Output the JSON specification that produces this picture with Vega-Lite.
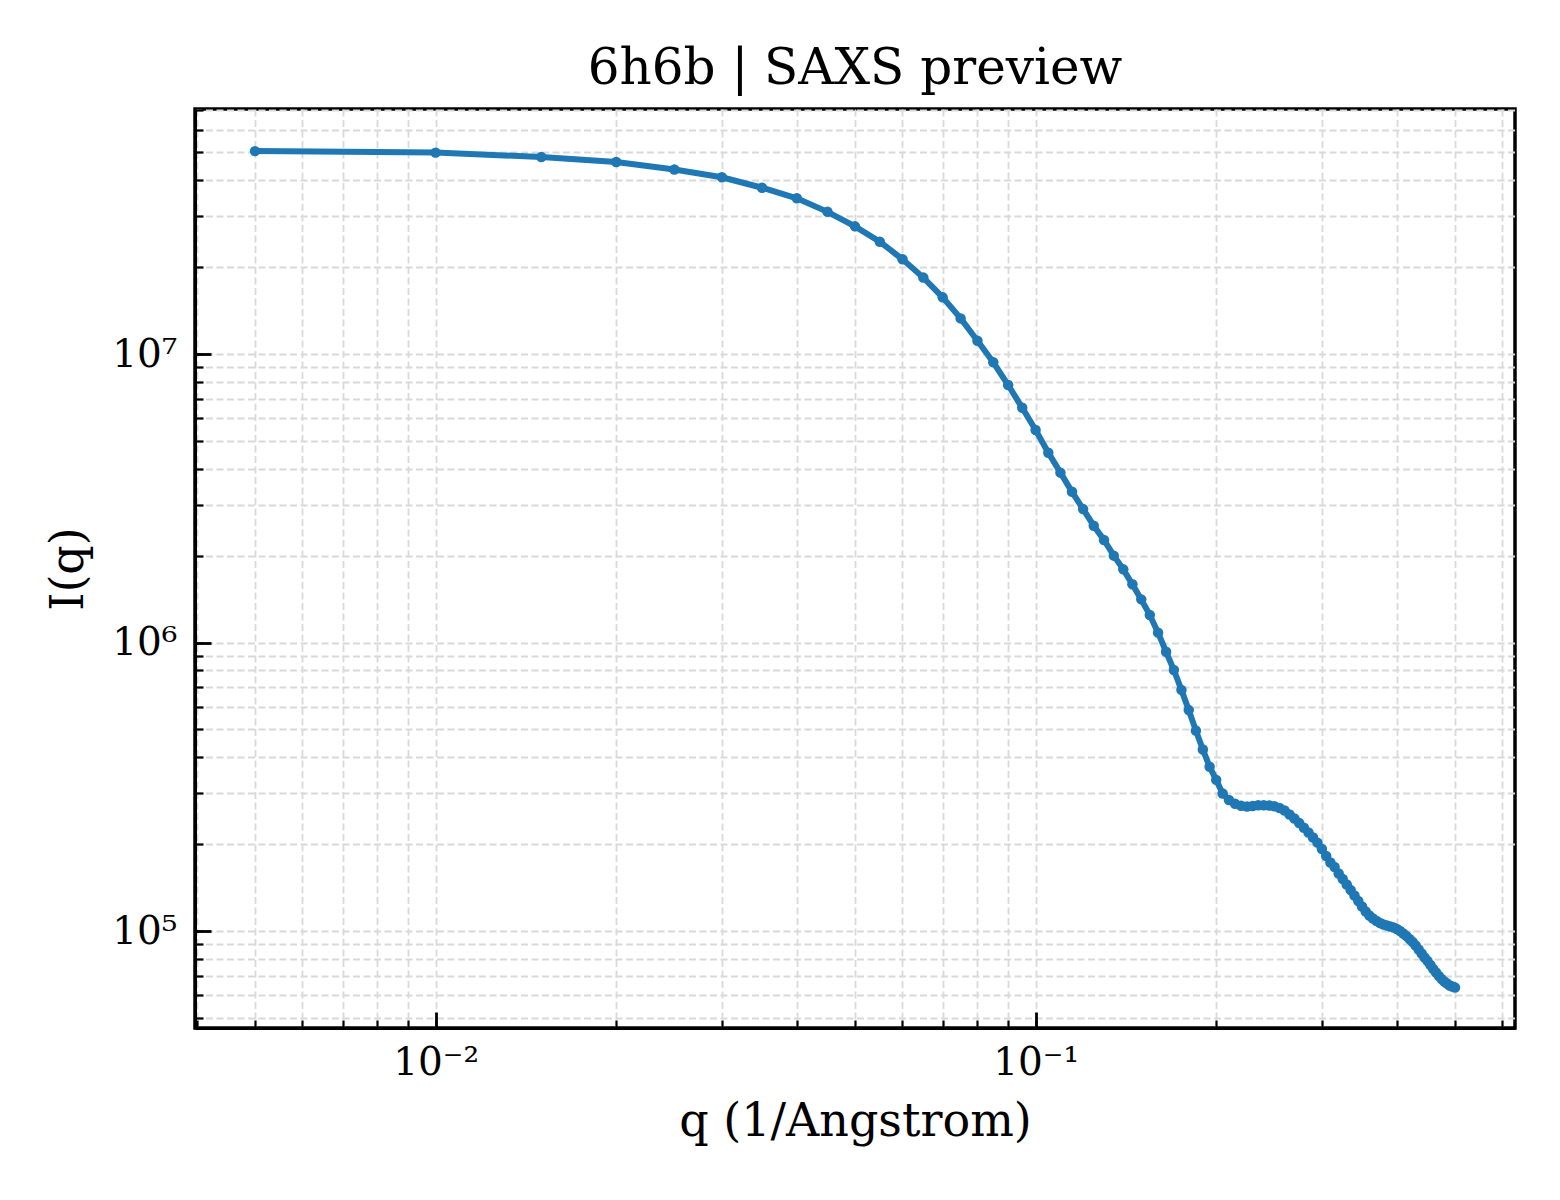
{
  "$schema": "https://vega.github.io/schema/vega-lite/v6.json",
  "description": "6h6b SAXS preview, log-log",
  "width": 1320,
  "height": 919,
  "autosize": {"type": "none"},
  "padding": {"left": 195, "top": 109, "right": 45, "bottom": 172},
  "title": {
    "text": "6h6b | SAXS preview",
    "font": "DejaVu Serif",
    "fontSize": 50,
    "fontWeight": "normal",
    "color": "black",
    "anchor": "middle",
    "frame": "group",
    "baseline": "alphabetic",
    "offset": 22,
    "dy": 47
  },
  "data": {
    "values": [
      {"q": 0.005, "I": 50500000},
      {"q": 0.01, "I": 49900000},
      {"q": 0.015, "I": 48200000},
      {"q": 0.02, "I": 46300000},
      {"q": 0.025, "I": 43600000},
      {"q": 0.03, "I": 41000000},
      {"q": 0.035, "I": 37700000},
      {"q": 0.04, "I": 34650000},
      {"q": 0.045, "I": 31100000},
      {"q": 0.05, "I": 27700000},
      {"q": 0.055, "I": 24500000},
      {"q": 0.06, "I": 21300000},
      {"q": 0.065, "I": 18400000},
      {"q": 0.07, "I": 15720000},
      {"q": 0.075, "I": 13290000},
      {"q": 0.08, "I": 11120000},
      {"q": 0.085, "I": 9360000},
      {"q": 0.09, "I": 7810000},
      {"q": 0.095, "I": 6510000},
      {"q": 0.1, "I": 5450000},
      {"q": 0.105, "I": 4550000},
      {"q": 0.11, "I": 3880000},
      {"q": 0.115, "I": 3330000},
      {"q": 0.12, "I": 2900000},
      {"q": 0.125, "I": 2540000},
      {"q": 0.13, "I": 2266000},
      {"q": 0.135, "I": 2000000},
      {"q": 0.14, "I": 1793000},
      {"q": 0.145, "I": 1591000},
      {"q": 0.15, "I": 1411000},
      {"q": 0.155, "I": 1245000},
      {"q": 0.16, "I": 1082000},
      {"q": 0.165, "I": 929000},
      {"q": 0.17, "I": 803000},
      {"q": 0.175, "I": 685000},
      {"q": 0.18, "I": 583000},
      {"q": 0.185, "I": 495000},
      {"q": 0.19, "I": 426000},
      {"q": 0.195, "I": 371000},
      {"q": 0.2, "I": 334000},
      {"q": 0.205, "I": 299700},
      {"q": 0.21, "I": 284600},
      {"q": 0.215, "I": 276000},
      {"q": 0.22, "I": 271600},
      {"q": 0.225, "I": 270100},
      {"q": 0.23, "I": 271200},
      {"q": 0.235, "I": 272900},
      {"q": 0.24, "I": 272900},
      {"q": 0.245, "I": 272300},
      {"q": 0.25, "I": 270800},
      {"q": 0.255, "I": 266900},
      {"q": 0.26, "I": 261700},
      {"q": 0.265, "I": 253400},
      {"q": 0.27, "I": 245500},
      {"q": 0.275, "I": 236900},
      {"q": 0.28, "I": 227900},
      {"q": 0.285, "I": 219500},
      {"q": 0.29, "I": 211000},
      {"q": 0.295, "I": 202400},
      {"q": 0.3, "I": 192500},
      {"q": 0.305, "I": 182000},
      {"q": 0.31, "I": 172800},
      {"q": 0.315, "I": 166700},
      {"q": 0.32, "I": 158200},
      {"q": 0.325, "I": 151500},
      {"q": 0.33, "I": 145000},
      {"q": 0.335, "I": 138800},
      {"q": 0.34, "I": 132700},
      {"q": 0.345, "I": 127100},
      {"q": 0.35, "I": 121600},
      {"q": 0.355, "I": 116900},
      {"q": 0.36, "I": 113200},
      {"q": 0.365, "I": 110500},
      {"q": 0.37, "I": 108300},
      {"q": 0.375, "I": 106600},
      {"q": 0.38, "I": 105300},
      {"q": 0.385, "I": 104500},
      {"q": 0.39, "I": 103600},
      {"q": 0.395, "I": 102800},
      {"q": 0.4, "I": 101600},
      {"q": 0.405, "I": 100000},
      {"q": 0.41, "I": 98000},
      {"q": 0.415, "I": 96100},
      {"q": 0.42, "I": 93800},
      {"q": 0.425, "I": 91600},
      {"q": 0.43, "I": 89100},
      {"q": 0.435, "I": 86300},
      {"q": 0.44, "I": 83600},
      {"q": 0.445, "I": 80900},
      {"q": 0.45, "I": 78700},
      {"q": 0.455, "I": 76200},
      {"q": 0.46, "I": 73800},
      {"q": 0.465, "I": 71800},
      {"q": 0.47, "I": 69800},
      {"q": 0.475, "I": 68200},
      {"q": 0.48, "I": 66800},
      {"q": 0.485, "I": 65800},
      {"q": 0.49, "I": 64700},
      {"q": 0.495, "I": 64200},
      {"q": 0.5, "I": 63700}
    ]
  },
  "layer": [
    {
      "mark": {"type": "line", "color": "#1f77b4", "strokeWidth": 6},
      "encoding": {
        "x": {
          "field": "q",
          "type": "quantitative",
          "scale": {"type": "log", "domain": [0.003972, 0.6295], "nice": false},
          "axis": {
            "orient": "bottom",
            "values": [0.004, 0.005, 0.006, 0.007, 0.008, 0.009, 0.01, 0.02, 0.03, 0.04, 0.05, 0.06, 0.07, 0.08, 0.09, 0.1, 0.2, 0.3, 0.4, 0.5, 0.6],
            "labels": false,
            "title": null,
            "domain": false,
            "grid": true,
            "gridColor": "#d9d9d9",
            "gridDash": [7, 3.5],
            "gridWidth": 1.8,
            "tickSize": -8,
            "tickWidth": 2.2,
            "tickColor": "black"
          }
        },
        "y": {
          "field": "I",
          "type": "quantitative",
          "scale": {"type": "log", "domain": [46110, 70680000], "nice": false},
          "axis": {
            "orient": "left",
            "values": [50000, 60000, 70000, 80000, 90000, 100000, 200000, 300000, 400000, 500000, 600000, 700000, 800000, 900000, 1000000, 2000000, 3000000, 4000000, 5000000, 6000000, 7000000, 8000000, 9000000, 10000000, 20000000, 30000000, 40000000, 50000000, 60000000, 70000000],
            "labels": false,
            "title": null,
            "domain": false,
            "grid": true,
            "gridColor": "#d9d9d9",
            "gridDash": [7, 3.5],
            "gridWidth": 1.8,
            "tickSize": -8,
            "tickWidth": 2.2,
            "tickColor": "black"
          }
        }
      }
    },
    {
      "mark": {"type": "point", "filled": true, "size": 110, "color": "#1f77b4", "opacity": 1},
      "encoding": {
        "x": {
          "field": "q",
          "type": "quantitative",
          "axis": {
            "orient": "bottom",
            "values": [0.01, 0.1],
            "labelExpr": "datum.value < 0.05 ? '10⁻²' : '10⁻¹'",
            "labelFont": "DejaVu Serif",
            "labelFontSize": 39,
            "labelColor": "black",
            "labelPadding": 31,
            "grid": false,
            "domain": true,
            "domainColor": "black",
            "domainWidth": 3,
            "tickSize": -16,
            "tickWidth": 2.8,
            "tickColor": "black",
            "title": "q (1/Angstrom)",
            "titleFont": "DejaVu Serif",
            "titleFontSize": 46,
            "titleFontWeight": "normal",
            "titleColor": "black",
            "titlePadding": 17
          }
        },
        "y": {
          "field": "I",
          "type": "quantitative",
          "axis": {
            "orient": "left",
            "values": [100000, 1000000, 10000000],
            "labelExpr": "datum.value < 500000 ? '10⁵' : datum.value < 5000000 ? '10⁶' : '10⁷'",
            "labelFont": "DejaVu Serif",
            "labelFontSize": 39,
            "labelColor": "black",
            "labelPadding": 34,
            "grid": false,
            "domain": true,
            "domainColor": "black",
            "domainWidth": 3,
            "tickSize": -16,
            "tickWidth": 2.8,
            "tickColor": "black",
            "title": "I(q)",
            "titleFont": "DejaVu Serif",
            "titleFontSize": 46,
            "titleFontWeight": "normal",
            "titleColor": "black",
            "titlePadding": 19
          }
        }
      }
    }
  ],
  "resolve": {"axis": {"x": "independent", "y": "independent"}},
  "config": {
    "view": {"stroke": "black", "strokeWidth": 3.5},
    "font": "DejaVu Serif"
  }
}
